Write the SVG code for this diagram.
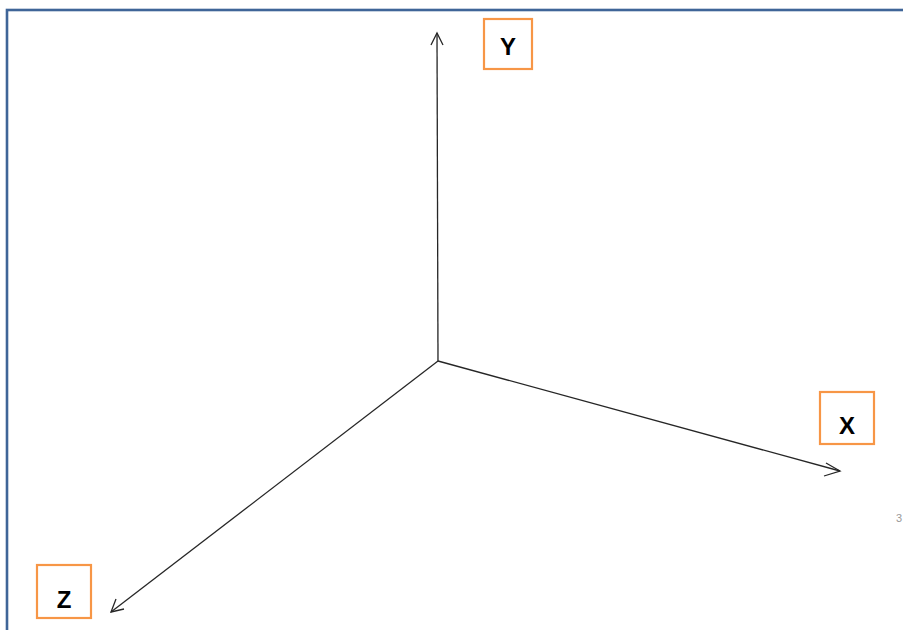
<svg xmlns="http://www.w3.org/2000/svg" width="903" height="630" viewBox="0 0 903 630">
<style>
.axis{fill:none;stroke:#262626;stroke-width:1.3}
.box{fill:#fff;stroke:#F79646;stroke-width:2.2}
.lbl{font-family:"Liberation Sans",Arial,sans-serif;font-weight:bold;font-size:24px;fill:#000;text-anchor:middle}
</style>
<rect width="903" height="630" fill="#fff"/>
<rect x="7" y="10" width="910" height="640" fill="none" stroke="#3F6598" stroke-width="2.6"/>
<g id="connectors">
<path class="axis" d="M438,361 L437,33"/>
<path class="axis" d="M431,45 L437,33 L443,45"/>
<path class="axis" d="M438,361 L840,471"/>
<path class="axis" d="M826,463 L840,471 L824,476"/>
<path class="axis" d="M438,361 L111,612"/>
<path class="axis" d="M116,599 L111,612 L124,609"/>
</g>
<g id="nodeY"><rect class="box" x="484" y="19" width="48" height="50"/><text class="lbl" x="508" y="55">Y</text></g>
<g id="nodeX"><rect class="box" x="820" y="392" width="54" height="52"/><text class="lbl" x="847" y="434">X</text></g>
<g id="nodeZ"><rect class="box" x="37" y="565" width="54" height="53"/><text class="lbl" x="64" y="608">Z</text></g>
<text x="896" y="522" font-family="Liberation Sans,Arial,sans-serif" font-size="11" fill="#999">3</text>
</svg>
